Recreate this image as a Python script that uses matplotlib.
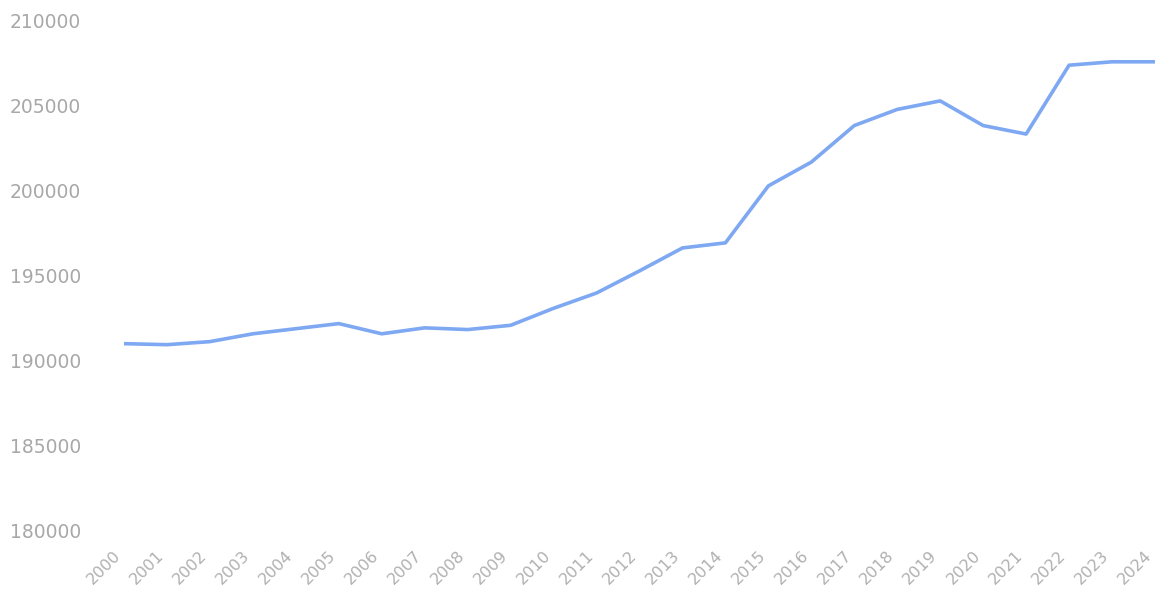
import matplotlib
matplotlib.use("Agg")
import matplotlib.pyplot as plt

years = [str(y) for y in range(2000, 2025)]
values = [191020, 190960, 191140, 191600, 191900, 192200, 191600, 191950, 191850,
          192100, 193100, 194000, 195300, 196650, 196950, 200300, 201700, 203850,
          204800, 205300, 203850, 203350, 207400, 207600, 207600]
yticks = [180000, 185000, 190000, 195000, 200000, 205000, 210000]

fig = plt.figure(figsize=(11.59, 5.95), dpi=100)
ax = fig.add_axes([124/1159, 1 - 531/595, (1155 - 124)/1159, (531 - 21)/595])
x = list(range(len(years)))
ax.plot(x, values, color="#7ea8f2", linewidth=2.6, solid_joinstyle="round")
ax.set_xlim(0, len(years) - 1)
ax.set_ylim(180000, 210000)
ax.set_yticks(yticks)
ax.set_yticklabels([str(v) for v in yticks], fontsize=13.5, color="#a8a8a8")
ax.set_xticks(x)
ax.set_xticklabels(years, rotation=45, ha="right", va="top",
                   fontsize=11.5, color="#b0b0b0")
for s in ax.spines.values():
    s.set_visible(False)
ax.tick_params(axis="both", length=0)
ax.tick_params(axis="y", pad=31)
ax.tick_params(axis="x", pad=12)
fig.savefig("out.png", dpi=100, facecolor="white")
